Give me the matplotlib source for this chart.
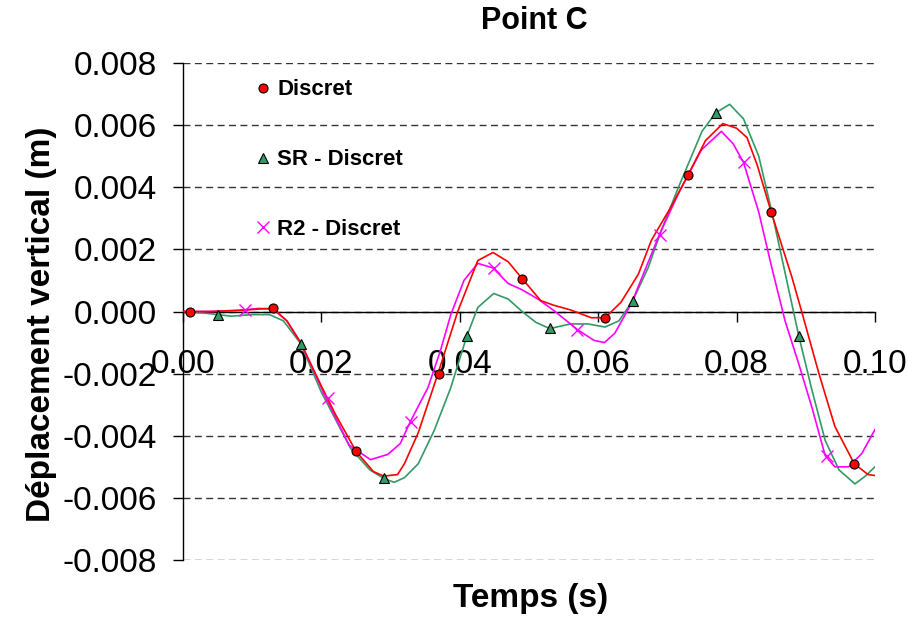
import matplotlib
matplotlib.use("Agg")
import matplotlib.pyplot as plt
import numpy as np

plt.rcParams['font.family'] = ['Liberation Sans', 'DejaVu Sans']

# courbes (temps en s, deplacement en mm -> converti en m plus bas)
t_discret = [0, 0.004, 0.008, 0.011, 0.013, 0.015, 0.017, 0.020, 0.022, 0.025,
             0.0275, 0.029, 0.031, 0.032, 0.034, 0.0368, 0.0397, 0.0426, 0.0448, 0.047,
             0.049, 0.0517, 0.0536, 0.056, 0.059, 0.061, 0.0633, 0.0658, 0.0677, 0.0706,
             0.073, 0.0755, 0.078, 0.080, 0.0815, 0.083, 0.085, 0.088, 0.0894, 0.0919,
             0.0942, 0.097, 0.099, 0.1]
y_discret = [0.0, 0.0, 0.03, 0.08, 0.10, -0.3, -1.0, -2.4, -3.3, -4.5,
             -5.15, -5.3, -5.25, -4.9, -3.9, -2.03, 0.0, 1.64, 1.9, 1.6,
             1.06, 0.35, 0.2, 0.05, -0.2, -0.2, 0.3, 1.2, 2.3, 3.4,
             4.4, 5.5, 6.05, 5.9, 5.6, 4.7, 3.2, 1.1, 0.0, -2.0,
             -3.7, -4.9, -5.25, -5.28]

t_sr = [0, 0.003, 0.005, 0.007, 0.010, 0.0125, 0.0145, 0.017, 0.020, 0.0242,
        0.027, 0.029, 0.0305, 0.032, 0.034, 0.0363, 0.0387, 0.041, 0.0426, 0.0449,
        0.047, 0.049, 0.051, 0.053, 0.056, 0.0585, 0.061, 0.063, 0.065, 0.0672,
        0.0691, 0.0716, 0.075, 0.077, 0.079, 0.081, 0.0832, 0.0851, 0.089, 0.0909,
        0.0928, 0.0948, 0.0971, 0.0986, 0.1]
y_sr = [0.0, -0.05, -0.1, -0.15, -0.1, -0.1, -0.3, -1.03, -2.6, -4.4,
        -5.1, -5.37, -5.5, -5.35, -4.9, -3.83, -2.45, -0.8, 0.13, 0.58,
        0.4, 0.0, -0.35, -0.55, -0.4, -0.4, -0.5, -0.3, 0.35, 1.4,
        2.6, 4.0, 5.8, 6.4, 6.67, 6.2, 5.0, 3.2, -0.8, -2.54,
        -4.15, -5.1, -5.55, -5.3, -5.0]

t_r2 = [0, 0.004, 0.0087, 0.011, 0.013, 0.015, 0.017, 0.0207, 0.024, 0.0271,
        0.0296, 0.0314, 0.0328, 0.0354, 0.0372, 0.0387, 0.0406, 0.0426, 0.0448, 0.047,
        0.049, 0.0513, 0.0536, 0.0571, 0.0594, 0.0609, 0.0624, 0.0648, 0.0667, 0.0688,
        0.0716, 0.0749, 0.0778, 0.0795, 0.081, 0.0832, 0.0851, 0.087, 0.089, 0.0909,
        0.0928, 0.0942, 0.0962, 0.0981, 0.1]
y_r2 = [0.0, 0.0, 0.05, 0.1, 0.08, -0.3, -1.0, -2.8, -4.3, -4.77,
        -4.6, -4.25, -3.57, -2.45, -1.26, -0.1, 1.0, 1.55, 1.4, 0.9,
        0.7, 0.4, 0.03, -0.6, -0.93, -1.0, -0.7, 0.26, 1.3, 2.45,
        3.8, 5.2, 5.8, 5.4, 4.8, 3.2, 1.4, -0.3, -1.7, -3.1,
        -4.64, -5.0, -5.0, -4.57, -3.8]

# points discrets (marqueurs)
tm_discret = [0.001, 0.013, 0.025, 0.037, 0.049, 0.061, 0.073, 0.085, 0.097]
ym_discret = [0.0, 0.1, -4.5, -2.0, 1.06, -0.2, 4.4, 3.2, -4.9]
tm_sr = [0.005, 0.017, 0.029, 0.041, 0.053, 0.065, 0.077, 0.089]
ym_sr = [-0.1, -1.05, -5.37, -0.8, -0.53, 0.35, 6.4, -0.78]
tm_r2 = [0.009, 0.021, 0.033, 0.045, 0.057, 0.069, 0.081, 0.093]
ym_r2 = [0.05, -2.8, -3.57, 1.4, -0.6, 2.45, 4.8, -4.64]

x_ticks = [0.0, 0.02, 0.04, 0.06, 0.08, 0.10]
y_ticks = [-0.008, -0.006, -0.004, -0.002, 0.0, 0.002, 0.004, 0.006, 0.008]

red = '#FF0000'
green = '#339966'
magenta = '#FF00FF'

fig = plt.figure(figsize=(9.08, 6.21), dpi=100)
ax = fig.add_axes([183 / 908, 1 - 560 / 621, 692 / 908, 497 / 621])

mm = 1e-3
ax.plot(t_discret, np.array(y_discret) * mm, color=red, lw=1.2, zorder=3)
ax.plot(t_sr, np.array(y_sr) * mm, color=green, lw=1.2, zorder=2)
ax.plot(t_r2, np.array(y_r2) * mm, color=magenta, lw=1.2, zorder=2.5)

ax.plot(tm_discret, np.array(ym_discret) * mm, 'o', ms=6.5, mfc=red, mec='black',
        mew=0.8, label='Discret', zorder=5)
ax.plot(tm_sr, np.array(ym_sr) * mm, '^', ms=7, mfc=green, mec='black',
        mew=0.8, label='SR - Discret', zorder=5)
ax.plot(tm_r2, np.array(ym_r2) * mm, 'x', ms=9, color=magenta, mew=1.0,
        label='R2 - Discret', zorder=5)

ax.set_xlim(0, 0.1)
ax.set_ylim(-0.008, 0.008)
ax.set_xticks(x_ticks)
ax.set_yticks(y_ticks)
ax.set_xticklabels(['%.2f' % v for v in x_ticks])
ax.set_yticklabels(['%.3f' % v for v in y_ticks])

for s in ['top', 'right']:
    ax.spines[s].set_visible(False)
ax.spines['bottom'].set_position(('data', 0))
ax.spines['bottom'].set_zorder(1)
ax.spines['left'].set_linewidth(1)
ax.spines['bottom'].set_linewidth(1)

ax.tick_params(axis='both', direction='out', length=7, width=1, labelsize=24)
ax.tick_params(axis='x', pad=20)
ax.tick_params(axis='y', pad=12)

ax.yaxis.grid(True, color='#333333', linestyle=(0, (5, 3.2)), linewidth=1)
ax.set_axisbelow(True)

ax.legend(loc='upper left', bbox_to_anchor=(0.1026, 0.967), frameon=False,
          prop={'weight': 'bold', 'size': 16}, handlelength=0.8,
          handletextpad=0.25, labelspacing=2.2, borderpad=0, borderaxespad=0)

fig.text(0.588, 0.966, 'Point C', ha='center', va='center',
         fontsize=22, fontweight='bold')
fig.text(0.584, 0.037, 'Temps (s)', ha='center', va='center',
         fontsize=24, fontweight='bold')
fig.text(0.046, 0.478, 'Déplacement vertical (m)', ha='center', va='center',
         rotation=90, fontsize=24, fontweight='bold')

fig.savefig('out.png', dpi=100)
